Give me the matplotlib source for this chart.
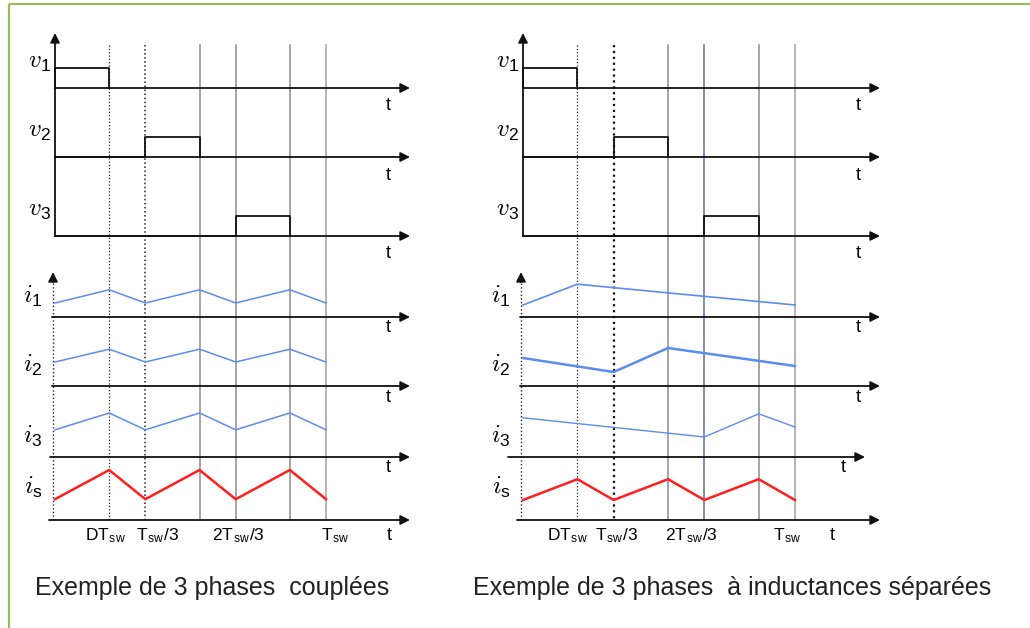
import numpy as np
import matplotlib
matplotlib.use("Agg")
import matplotlib.pyplot as plt

plt.rcParams['font.family'] = ['Liberation Sans', 'DejaVu Sans']
plt.rcParams['mathtext.fontset'] = 'custom'
plt.rcParams['mathtext.rm'] = 'Liberation Sans'
plt.rcParams['mathtext.it'] = 'cmmi10'

# duty cycle and switching instants, in units of T_sw
D = 0.2
t_ticks = [0, D, 1/3, 1/3 + D, 2/3, 2/3 + D, 1]
tick_labels = ['DT$_\\mathrm{sw}$', 'T$_\\mathrm{sw}$/3', '2T$_\\mathrm{sw}$/3', 'T$_\\mathrm{sw}$']
tick_times = [D, 1/3, 2/3, 1]

# gate voltages: (start, end) of the on-pulse, level 0/1
v_pulses = [(0, D), (1/3, 1/3 + D), (2/3, 2/3 + D)]
v_names = ['$v_\\mathrm{1}$', '$v_\\mathrm{2}$', '$v_\\mathrm{3}$']
i_names = ['$i_\\mathrm{1}$', '$i_\\mathrm{2}$', '$i_\\mathrm{3}$', '$i_\\mathrm{s}$']

# coupled inductors: every phase ripples at 3x the switching frequency
i1_coupled = [0.35, 0.68, 0.35, 0.68, 0.35, 0.68, 0.35]
i2_coupled = [0.60, 0.92, 0.60, 0.92, 0.60, 0.92, 0.60]
i3_coupled = [0.68, 1.10, 0.68, 1.10, 0.68, 1.10, 0.68]
is_coupled = [0.52, 1.25, 0.52, 1.25, 0.52, 1.25, 0.52]

# separate inductors: each phase ripples once per period
t_i1_sep = [0, D, 1]
i1_sep = [0.30, 0.82, 0.30]
t_i2_sep = [0, 1/3, 1/3 + D, 1]
i2_sep = [0.70, 0.35, 0.95, 0.50]
t_i3_sep = [0, 2/3, 2/3 + D, 1]
i3_sep = [0.98, 0.50, 1.08, 0.75]
is_sep = [0.50, 1.02, 0.50, 1.02, 0.50, 1.02, 0.50]

titles = ['Exemple de 3 phases  couplées', 'Exemple de 3 phases  à inductances séparées']

BLUE = '#5b8cf0'
RED = '#ff1f1f'
GREEN = '#9bbb59'

fig = plt.figure(figsize=(10.3, 6.28), dpi=100)
ax = fig.add_axes([0, 0, 1, 1])
ax.set_xlim(0, 1030)
ax.set_ylim(628, 0)
ax.axis('off')

# green frame (top and left edges only)
ax.plot([9, 1030], [4, 4], color=GREEN, lw=1.6, solid_capstyle='butt')
ax.plot([9, 9], [4, 628], color=GREEN, lw=1.6, solid_capstyle='butt')

v_base = [88, 157, 236]
i_base = [317, 386, 457, 520]
v_scale = 20
i_scale = 40


def arrow(x0, y0, x1, y1):
    ax.annotate('', xy=(x1, y1), xytext=(x0, y0),
                arrowprops=dict(arrowstyle='-|>', color='#111111', lw=1.3,
                                mutation_scale=14, shrinkA=0, shrinkB=0))


def panel(x0, scale, tip, currents, is_vals, vline_styles, lab_offs, t_lab_x,
          title_x, i3_axis, title):
    X = lambda t: x0 + np.asarray(t) * scale

    # switching-instant guides
    for t, (style, color, lw) in zip(t_ticks[1:], vline_styles):
        ax.plot([X(t), X(t)], [45, 520], color=color, lw=lw, ls=style, zorder=1)

    # voltage axes
    arrow(x0, 236, x0, 33)
    for k, (ta, tb) in enumerate(v_pulses):
        b = v_base[k]
        arrow(x0, b, tip, b)
        if ta > 0:
            xs, ys = X([0, ta, ta, tb, tb]), [b, b, b - v_scale, b - v_scale, b]
        else:
            xs, ys = X([0, 0, tb, tb]), [b, b - v_scale, b - v_scale, b]
        ax.plot(xs, ys, color='#111111', lw=1.3, zorder=3)
        ax.text(x0 - 16, b - 26, v_names[k], fontsize=18, ha='center', va='center')
        ax.text(tip - 22, b + 18, 't', fontsize=13, ha='center', va='center')

    # current axes
    ax.plot([x0 - 2, x0 - 2], [520, 282], color='#222222', lw=1.0, ls=':', zorder=1)
    arrow(x0 - 2, 282, x0 - 2, 272)
    for k in range(4):
        b = i_base[k]
        if k == 2:
            arrow(i3_axis[0], b, i3_axis[1], b)
        else:
            arrow(x0 - 3 - (k == 3) * 3, b, tip, b)
        ax.text(x0 - 22, b - 21 if k < 3 else b - 33, i_names[k], fontsize=18,
                ha='center', va='center')

    for k, (tt, vals, lw) in enumerate(currents):
        ax.plot(X(tt), i_base[k] - np.asarray(vals) * i_scale, color=BLUE,
                lw=lw, zorder=4)
    ax.plot(X(t_ticks), i_base[3] - np.asarray(is_vals) * i_scale, color=RED,
            lw=1.8, zorder=4)

    t_x = [tip - 22, tip - 22, i3_axis[1] - 22]
    for k in range(3):
        ax.text(t_x[k], i_base[k] + 11, 't', fontsize=13, ha='center', va='center')

    # time labels under the summed current
    for t, lab, o in zip(tick_times, tick_labels, lab_offs):
        ax.text(X(t) + o, 536, lab, fontsize=12.5, ha='center', va='center')
    ax.text(t_lab_x, 536, 't', fontsize=13, ha='center', va='center')

    ax.text(title_x, 588, title, fontsize=18, ha='left', va='center', color='#222222')


panel(55, 271, 410,
      [(t_ticks, i1_coupled, 1.1), (t_ticks, i2_coupled, 1.1), (t_ticks, i3_coupled, 1.1)],
      is_coupled,
      [(':', '#222222', 0.9), (':', '#222222', 1.1), ('-', '#8c8c8c', 1.1),
       ('-', '#8c8c8c', 1.1), ('-', '#8c8c8c', 1.1), ('-', '#a0a0a0', 1.1)],
      [-4, 12, 3, 9], 389, 35, (50, 410), titles[0])

panel(523, 272, 880,
      [(t_i1_sep, i1_sep, 1.2), (t_i2_sep, i2_sep, 1.8), (t_i3_sep, i3_sep, 1.0)],
      is_sep,
      [(':', '#222222', 0.9), (':', '#111111', 1.6), ('-', '#8c8c8c', 1.1),
       ('-', '#5a6ea8', 1.1), ('-', '#8c8c8c', 1.1), ('-', '#a0a0a0', 1.1)],
      [-10, 3, -13, -8], 832, 473, (508, 865), titles[1])

fig.savefig('out.png', dpi=100, facecolor='white')
